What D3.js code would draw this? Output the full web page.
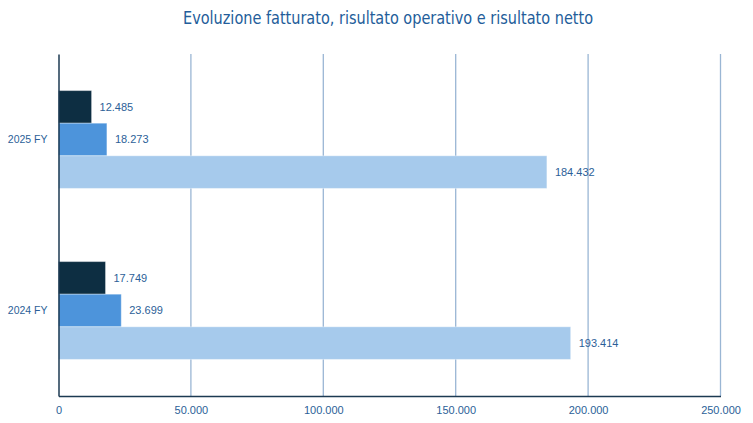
<!DOCTYPE html>
<html><head><meta charset="utf-8">
<script src="https://cdn.jsdelivr.net/npm/d3@7"></script>
<style>
html,body{margin:0;padding:0;background:#fff;}
svg{display:block;}
</style></head>
<body>
<svg id="chart" width="753" height="423"></svg>
<script>
const categories = ["2025 FY", "2024 FY"];
const seriesNames = ["Risultato netto", "Risultato operativo", "Fatturato"];
const risultatoNetto = [12485, 17749];
const risultatoOperativo = [18273, 23699];
const fatturato = [184432, 193414];
const xTicks = [0, 50000, 100000, 150000, 200000, 250000];
const colors = ["#0d2e42", "#4d94db", "#a6caec"];

const svg = d3.select("#chart");
const W = 753, H = 423;
const m = {left: 58.5, right: 32.5, top: 54, bottom: 27};
const iw = W - m.left - m.right, ih = H - m.top - m.bottom;

const series = [risultatoNetto, risultatoOperativo, fatturato];
const fmt = v => d3.format(",")(v).replace(/,/g, ".");

svg.append("text").attr("x", 388).attr("y", 24)
  .attr("text-anchor", "middle")
  .attr("font-family", "'Liberation Sans Narrow','DejaVu Sans Condensed',Roboto,sans-serif")
  .attr("font-stretch", "condensed")
  .attr("font-size", 17.5).attr("fill", "#235d9a")
  .attr("textLength", 410).attr("lengthAdjust", "spacingAndGlyphs")
  .text("Evoluzione fatturato, risultato operativo e risultato netto");

const g = svg.append("g").attr("transform", `translate(${m.left},${m.top})`);
const x = d3.scaleLinear().domain([0, 250000]).range([0, iw]);
const y = d3.scaleBand().domain(categories).range([0, ih]).paddingInner(0.428).paddingOuter(0.214);
const yi = d3.scaleBand().domain(d3.range(3)).range([0, y.bandwidth()]);

// gridlines
g.append("g").selectAll("line").data(xTicks.slice(1)).join("line")
  .attr("x1", d => x(d)).attr("x2", d => x(d))
  .attr("y1", 0).attr("y2", ih)
  .attr("stroke", "#9ab6d4").attr("stroke-width", 1.3);

// bars
const groups = g.append("g").selectAll("g").data(categories).join("g")
  .attr("transform", d => `translate(0,${y(d)})`);
groups.each(function(cat, ci) {
  const gg = d3.select(this);
  series.forEach((s, si) => {
    gg.append("rect").attr("x", 0).attr("y", yi(si))
      .attr("width", x(s[ci])).attr("height", yi.bandwidth())
      .attr("fill", colors[si])
      .attr("stroke", "#ffffff").attr("stroke-opacity", 0.35).attr("stroke-width", 1);
    gg.append("text").attr("x", x(s[ci]) + 8).attr("y", yi(si) + yi.bandwidth() / 2)
      .attr("dy", "0.35em")
      .attr("font-family", "'Liberation Sans',Arial,sans-serif").attr("font-size", 11)
      .attr("fill", "#2c5f98").text(fmt(s[ci]));
  });
});

// axes
const xAxis = g.append("g").attr("transform", `translate(0,${ih})`)
  .call(d3.axisBottom(x).tickValues(xTicks).tickFormat(fmt).tickSize(0).tickPadding(10));
xAxis.select(".domain").attr("stroke", "#1c3a52").attr("stroke-width", 1.5);
xAxis.selectAll("text").attr("font-family", "'Liberation Sans',Arial,sans-serif")
  .attr("font-size", 11).attr("fill", "#2c5f98");

const yAxis = g.append("g")
  .call(d3.axisLeft(y).tickSize(0).tickPadding(11));
yAxis.select(".domain").attr("stroke", "#1c3a52").attr("stroke-width", 1.5);
yAxis.selectAll("text").attr("font-family", "'Liberation Sans',Arial,sans-serif")
  .attr("font-size", 10.5).attr("fill", "#2c5f98");
</script>
</body></html>
